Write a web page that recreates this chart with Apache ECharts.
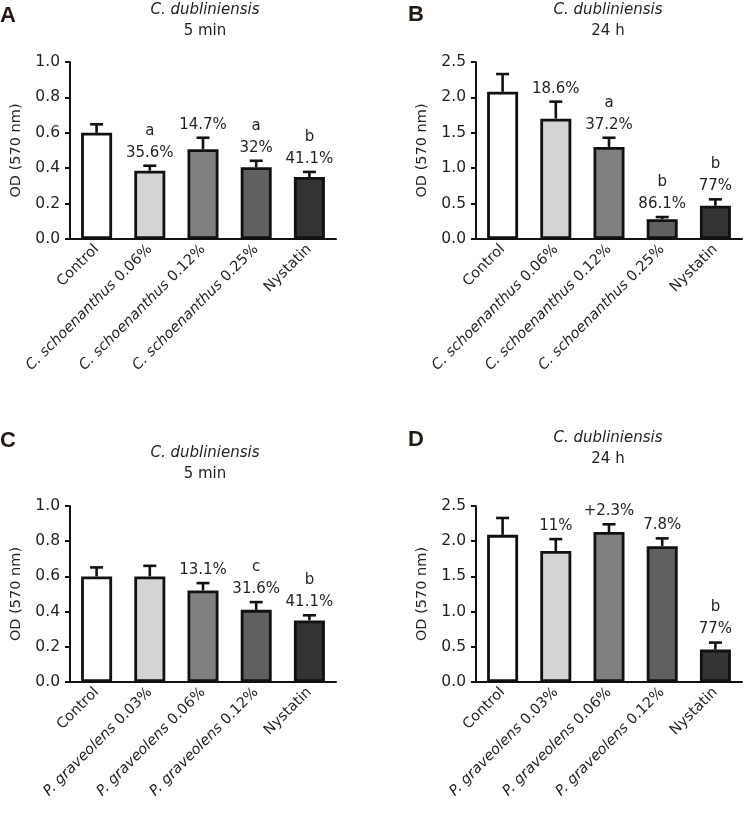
<!DOCTYPE html>
<html>
<head>
<meta charset="utf-8">
<script src="https://cdn.jsdelivr.net/npm/echarts@6/dist/echarts.min.js"></script>
<style>html,body{margin:0;padding:0;background:#fff}#c{width:750px;height:817px}</style>
</head>
<body>
<div id="c"></div>
<script>
// ---- data ----
const catsCS = ['Control', 'C. schoenanthus 0.06%', 'C. schoenanthus 0.12%', 'C. schoenanthus 0.25%', 'Nystatin'];
const catsPG = ['Control', 'P. graveolens 0.03%', 'P. graveolens 0.06%', 'P. graveolens 0.12%', 'Nystatin'];

const meanA = [0.60, 0.386, 0.507, 0.405, 0.350];
const errA  = [0.048, 0.028, 0.065, 0.037, 0.029];
const letA  = ['', 'a', '', 'a', 'b'];
const pctA  = ['', '35.6%', '14.7%', '32%', '41.1%'];

const meanB = [2.08, 1.70, 1.30, 0.28, 0.47];
const errB  = [0.25, 0.24, 0.13, 0.03, 0.09];
const letB  = ['', '', 'a', 'b', 'b'];
const pctB  = ['', '18.6%', '37.2%', '86.1%', '77%'];

const meanC = [0.60, 0.60, 0.52, 0.41, 0.35];
const errC  = [0.051, 0.06, 0.042, 0.044, 0.029];
const letC  = ['', '', '', 'c', 'b'];
const pctC  = ['', '', '13.1%', '31.6%', '41.1%'];

const meanD = [2.09, 1.86, 2.13, 1.93, 0.46];
const errD  = [0.24, 0.17, 0.11, 0.11, 0.10];
const letD  = ['', '', '', '', 'b'];
const pctD  = ['', '11%', '+2.3%', '7.8%', '77%'];

const barColors = ['#ffffff', '#d4d4d4', '#808080', '#606060', '#333333'];
const panelLetters = ['A', 'B', 'C', 'D'];
const titleTimes = ['5 min', '24 h', '5 min', '24 h'];
const organism = 'C. dubliniensis';
const yTitle = 'OD (570 nm)';

// ---- chart ----
const FF = 'DejaVu Sans';
const TXT = '#231f20';
const panels = [
  {cats: catsCS, mean: meanA, err: errA, let: letA, pct: pctA, max: 1.0, interval: 0.2},
  {cats: catsCS, mean: meanB, err: errB, let: letB, pct: pctB, max: 2.5, interval: 0.5},
  {cats: catsPG, mean: meanC, err: errC, let: letC, pct: pctC, max: 1.0, interval: 0.2},
  {cats: catsPG, mean: meanD, err: errD, let: letD, pct: pctD, max: 2.5, interval: 0.5}
];
const grids = [
  {left: 70, top: 62, width: 266, height: 177},
  {left: 476, top: 62, width: 266, height: 177},
  {left: 70, top: 506, width: 266, height: 176},
  {left: 476, top: 506, width: 266, height: 176}
];
const titlePos = [
  {x: 205, y: 0}, {x: 608, y: 0}, {x: 205, y: 443}, {x: 608, y: 428}
];
const letterPos = [
  {x: 0, y: 5}, {x: 408, y: 4}, {x: 0, y: 430}, {x: 408, y: 429}
];

function catFormatter(v) {
  const m = v.match(/^([A-Z]\. [a-z]+)( .*)$/);
  return m ? '{i|' + m[1] + '}{n|' + m[2] + '}' : '{n|' + v + '}';
}

const option = {
  backgroundColor: '#fff',
  animation: false,
  title: [],
  grid: grids,
  xAxis: [],
  yAxis: [],
  series: []
};

panels.forEach((p, k) => {
  option.title.push({
    text: '{i|' + organism + '}\n{n|' + titleTimes[k] + '}',
    left: titlePos[k].x, top: titlePos[k].y, textAlign: 'center', padding: 0,
    textStyle: {
      fontWeight: 'normal',
      rich: {
        i: {fontFamily: FF, fontSize: 15, fontStyle: 'italic', fontWeight: 'normal', color: TXT, lineHeight: 21, align: 'center'},
        n: {fontFamily: FF, fontSize: 15, fontWeight: 'normal', color: TXT, lineHeight: 21, align: 'center'}
      }
    }
  });
  option.title.push({
    text: panelLetters[k], left: letterPos[k].x, top: letterPos[k].y, padding: 0,
    textStyle: {fontFamily: 'Liberation Sans', fontWeight: 'bold', fontSize: 22, color: '#231815'}
  });
  option.xAxis.push({
    type: 'category', gridIndex: k, data: p.cats,
    axisLine: {lineStyle: {color: '#111', width: 2}},
    axisTick: {alignWithLabel: true, length: 5, lineStyle: {color: '#111', width: 2}},
    axisLabel: {
      rotate: 45, margin: 8, interval: 0, formatter: catFormatter,
      rich: {
        i: {fontFamily: FF, fontSize: 14.5, fontStyle: 'italic', color: TXT},
        n: {fontFamily: FF, fontSize: 14.5, color: TXT}
      }
    }
  });
  option.yAxis.push({
    type: 'value', gridIndex: k, min: 0, max: p.max, interval: p.interval,
    name: yTitle, nameLocation: 'middle', nameGap: 46,
    nameTextStyle: {fontFamily: FF, fontSize: 14.5, color: TXT},
    splitLine: {show: false},
    axisLine: {show: true, lineStyle: {color: '#111', width: 2}},
    axisTick: {show: true, length: 5, lineStyle: {color: '#111', width: 2}},
    axisLabel: {fontFamily: FF, fontSize: 15.5, color: TXT, margin: 10, formatter: v => v.toFixed(1)}
  });
  option.series.push({
    type: 'bar', xAxisIndex: k, yAxisIndex: k, barWidth: 31,
    data: p.mean.map((v, i) => ({value: v, itemStyle: {color: barColors[i]}})),
    itemStyle: {borderColor: '#111', borderWidth: 2.8},
    z: 2
  });
  option.series.push({
    type: 'custom', xAxisIndex: k, yAxisIndex: k, z: 3,
    data: p.mean.map((v, i) => [i, v, p.err[i]]),
    renderItem: (params, api) => {
      const i = params.dataIndex;
      const x = api.value(0), y = api.value(1), e = api.value(2);
      const p0 = api.coord([x, y]);
      const p1 = api.coord([x, y + e]);
      const cap = 6.5;
      const children = [
        {type: 'line', shape: {x1: p0[0], y1: p0[1], x2: p1[0], y2: p1[1]}, style: {stroke: '#111', lineWidth: 2.6}},
        {type: 'line', shape: {x1: p1[0] - cap, y1: p1[1], x2: p1[0] + cap, y2: p1[1]}, style: {stroke: '#111', lineWidth: 2.6}}
      ];
      const lines = [];
      if (p.let[i]) lines.push(p.let[i]);
      if (p.pct[i]) lines.push(p.pct[i]);
      if (lines.length) {
        children.push({
          type: 'text',
          style: {
            text: lines.join('\n'), x: p1[0], y: p1[1] - 2,
            textAlign: 'center', textVerticalAlign: 'bottom',
            font: '15px "DejaVu Sans"', fill: TXT, lineHeight: 22
          }
        });
      }
      return {type: 'group', children: children};
    }
  });
});

const chart = echarts.init(document.getElementById('c'), null, {renderer: 'canvas'});
chart.setOption(option);
</script>
</body>
</html>
